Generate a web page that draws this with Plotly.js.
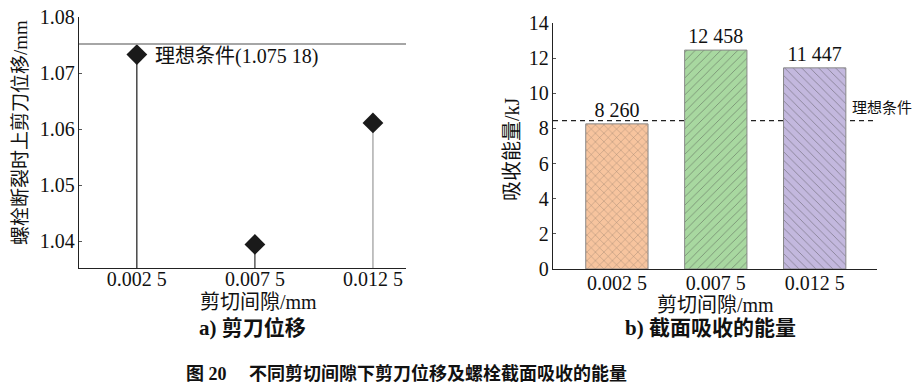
<!DOCTYPE html>
<html>
<head>
<meta charset="utf-8">
<script src="https://cdn.plot.ly/plotly-3.0.1.min.js"></script>
<style>html,body{margin:0;padding:0;background:#fff;}#chart{width:918px;height:392px;}</style>
</head>
<body>
<div id="chart"></div>
<script>
// ---- data ----
const gapLabels = ['0.002 5', '0.007 5', '0.012 5'];
const bladeDisp = [1.0733, 1.0394, 1.0611];
const idealDisp = 1.07518;
const idealDispLabel = '理想条件(1.075 18)';
const energy = [8.260, 12.458, 11.447];
const energyLabels = ['8 260', '12 458', '11 447'];
const idealEnergy = 8.44;
const idealEnergyLabel = '理想条件';
const stemColors = ['#1a1a1a', '#333333', '#999999'];
const barColors = ['#F7C49E', '#A8D8A0', '#C3B8DE'];
const barPatterns = ['x', '/', '\\'];

const W = 918, H = 392;
const px = x => x / W;
const py = y => 1 - y / H;
const FONT = 'Liberation Serif, Noto Sans CJK SC, serif';
const CJK = 'Noto Sans CJK SC, sans-serif';

const yMinL = 1.0352;
const traces = [];
gapLabels.forEach((g, i) => {
  traces.push({
    type: 'scatter', mode: 'lines', x: [g, g], y: [yMinL, bladeDisp[i]],
    line: {color: stemColors[i], width: 1.2}, xaxis: 'x', yaxis: 'y',
    hoverinfo: 'skip', showlegend: false
  });
});
traces.push({
  type: 'scatter', mode: 'markers', x: gapLabels, y: bladeDisp,
  marker: {symbol: 'diamond', size: 16, color: '#1a1a1a'},
  xaxis: 'x', yaxis: 'y', showlegend: false
});
traces.push({
  type: 'bar', x: gapLabels, y: energy, text: energyLabels,
  textposition: 'outside', cliponaxis: false,
  textfont: {family: FONT, size: 20, color: '#111'},
  width: 0.63,
  marker: {
    color: barColors,
    line: {color: '#888', width: 1},
    pattern: {shape: barPatterns, fillmode: 'overlay', bgcolor: barColors,
              fgcolor: '#3a3a3a', size: 6, solidity: 0.14}
  },
  xaxis: 'x2', yaxis: 'y2', showlegend: false
});

const axisCommon = {
  showgrid: false, zeroline: false, showline: true, linecolor: '#222', linewidth: 1.2,
  tickfont: {family: FONT, size: 20, color: '#111'}, mirror: false
};

function ann(x, y, text, size, extra) {
  return Object.assign({xref: 'paper', yref: 'paper', x: px(x), y: py(y), text: text,
    xanchor: 'center', yanchor: 'middle', showarrow: false,
    font: {family: FONT, size: size, color: '#111'}}, extra || {});
}

const layout = {
  width: W, height: H,
  margin: {l: 0, r: 0, t: 0, b: 0},
  paper_bgcolor: '#fff', plot_bgcolor: '#fff',
  showlegend: false,
  xaxis: Object.assign({}, axisCommon, {
    domain: [px(79), px(406)], range: [-0.49, 2.28], type: 'category',
    ticks: '', anchor: 'y', ticklabelstandoff: -7
  }),
  yaxis: Object.assign({}, axisCommon, {
    domain: [py(268), py(17)], range: [yMinL, 1.08],
    tickvals: [1.04, 1.05, 1.06, 1.07, 1.08], ticktext: ['1.04', '1.05', '1.06', '1.07', '1.08'],
    ticks: 'inside', ticklen: 3, tickcolor: '#555', anchor: 'x', ticklabelstandoff: -1
  }),
  xaxis2: Object.assign({}, axisCommon, {
    domain: [px(553), px(877)], range: [-0.646, 2.63], type: 'category',
    ticks: '', anchor: 'y2', ticklabelstandoff: -4
  }),
  yaxis2: Object.assign({}, axisCommon, {
    domain: [py(269), py(23)], range: [0, 14], dtick: 2,
    ticks: 'inside', ticklen: 3, tickcolor: '#555', anchor: 'x2', ticklabelstandoff: -1
  }),
  shapes: [
    {type: 'line', xref: 'x domain', yref: 'y', x0: 0, x1: 1, y0: idealDisp, y1: idealDisp,
     line: {color: '#888', width: 1.5}},
    {type: 'line', xref: 'x2 domain', yref: 'y2', x0: 0, x1: 1, y0: idealEnergy, y1: idealEnergy,
     line: {color: '#222', width: 1.2, dash: '5px,4px'}, layer: 'below'}
  ],
  annotations: [
    {xref: 'x', yref: 'y', x: 0, y: bladeDisp[0], xanchor: 'left', yanchor: 'middle',
     xshift: 16, yshift: -2, text: idealDispLabel, showarrow: false,
     font: {family: FONT, size: 20, color: '#111'}},
    {xref: 'paper', yref: 'y2', x: px(850), y: idealEnergy, xanchor: 'left', yanchor: 'bottom',
     yshift: 2, text: idealEnergyLabel, showarrow: false,
     font: {family: CJK, size: 15, color: '#111'}},
    ann(20, 133, '螺栓断裂时上剪刀位移/mm', 19, {textangle: -90}),
    ann(512, 149, '吸收能量/kJ', 20, {textangle: -90}),
    ann(258, 302, '剪切间隙/mm', 20),
    ann(715, 305, '剪切间隙/mm', 20),
    ann(253, 328, '<b>a) 剪刀位移</b>', 21),
    ann(710, 328, '<b>b) 截面吸收的能量</b>', 21),
    ann(406, 373, '<b>图 20　 不同剪切间隙下剪刀位移及螺栓截面吸收的能量</b>', 18)
  ]
};

Plotly.newPlot('chart', traces, layout, {staticPlot: true, displayModeBar: false});
</script>
</body>
</html>
